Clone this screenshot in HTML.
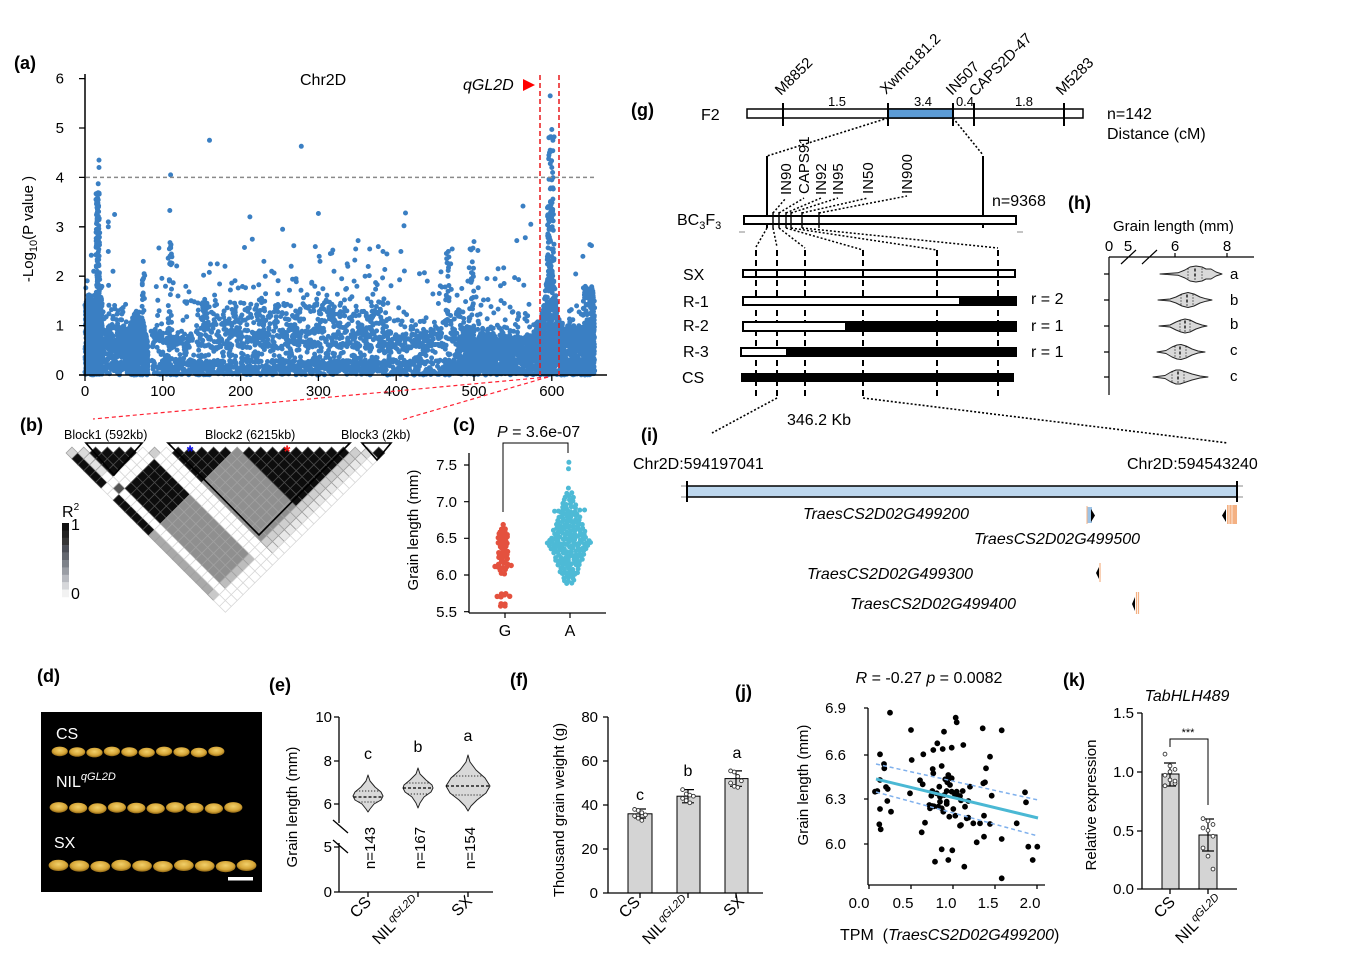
<!DOCTYPE html>
<html><head><meta charset="utf-8"><title>figure</title>
<style>
html,body{margin:0;padding:0;background:#fff;}
svg{display:block}
text{font-family:"Liberation Sans",Arial,sans-serif;fill:#000;}
.b{font-weight:bold;font-size:18px}
.t{font-size:15px}
.m{font-size:16px}
.it{font-style:italic}
</style></head><body>
<svg id="s" xmlns="http://www.w3.org/2000/svg" width="1370" height="974" viewBox="0 0 1370 974">
<defs>
<radialGradient id="gr" cx="50%" cy="40%" r="60%"><stop offset="0" stop-color="#f2d06a"/><stop offset="0.65" stop-color="#d6a638"/><stop offset="1" stop-color="#8f6614"/></radialGradient>
</defs>
<rect width="1370" height="974" fill="#fff"/>

<!-- ===== (a) Manhattan ===== -->
<text class="b" x="14" y="69">(a)</text>
<g id="gA"></g>
<line x1="85" y1="74" x2="85" y2="375" stroke="#000" stroke-width="1.5"/>
<line x1="79" y1="375" x2="607" y2="375" stroke="#000" stroke-width="1.5"/>
<path d="M79 375H85M79 325.6H85M79 276.2H85M79 226.8H85M79 177.4H85M79 128H85M79 78.6H85M85 375V381M162.8 375V381M240.6 375V381M318.4 375V381M396.2 375V381M474 375V381M551.8 375V381" stroke="#000" stroke-width="1.3"/>
<g class="t" text-anchor="end">
<text x="64" y="380">0</text><text x="64" y="330.6">1</text><text x="64" y="281.2">2</text><text x="64" y="231.8">3</text><text x="64" y="182.4">4</text><text x="64" y="133">5</text><text x="64" y="83.6">6</text>
</g>
<g class="t" text-anchor="middle">
<text x="85" y="396">0</text><text x="162.8" y="396">100</text><text x="240.6" y="396">200</text><text x="318.4" y="396">300</text><text x="396.2" y="396">400</text><text x="474" y="396">500</text><text x="551.8" y="396">600</text>
</g>
<text class="t" transform="translate(33,229) rotate(-90)" text-anchor="middle">-Log<tspan font-size="11" dy="4">10</tspan><tspan dy="-4">(P value )</tspan></text>
<text class="m" x="300" y="85">Chr2D</text>
<line x1="86" y1="177.4" x2="596" y2="177.4" stroke="#8a8a8a" stroke-width="1.5" stroke-dasharray="4,3"/>
<line x1="540" y1="75" x2="540" y2="375" stroke="#e8191c" stroke-width="1.5" stroke-dasharray="5,3"/>
<line x1="559" y1="75" x2="559" y2="375" stroke="#e8191c" stroke-width="1.5" stroke-dasharray="5,3"/>
<text class="m it" x="463" y="90">qGL2D</text>
<polygon points="523,79 535,85 523,91" fill="#f00"/>
<line x1="548" y1="377" x2="93" y2="419" stroke="#f23" stroke-width="1.2" stroke-dasharray="4,3"/>
<line x1="548" y1="377" x2="401" y2="420" stroke="#f23" stroke-width="1.2" stroke-dasharray="4,3"/>

<!-- ===== (b) LD ===== -->
<text class="b" x="20" y="431">(b)</text>
<g style="font-size:12.5px">
<text x="64" y="439">Block1 (592kb)</text>
<text x="205" y="439">Block2 (6215kb)</text>
<text x="341" y="439">Block3 (2kb)</text>
</g>
<g id="gB"></g>
<path d="M86 443H142L114 475Z M168 443H350L259 535Z M362 443H391L377 460Z" fill="none" stroke="#000" stroke-width="1.6" stroke-linejoin="miter"/>
<text x="190" y="457" text-anchor="middle" font-size="17" font-weight="bold" style="fill:#1010ee">*</text>
<text x="287" y="457" text-anchor="middle" font-size="17" font-weight="bold" style="fill:#f01010">*</text>
<text class="m" x="62" y="517">R<tspan font-size="10" dy="-7">2</tspan></text>
<g id="gLeg"></g>
<text class="m" x="71" y="530">1</text>
<text class="m" x="71" y="599">0</text>

<!-- ===== (c) ===== -->
<text class="b" x="453" y="431">(c)</text>
<text class="m" x="497" y="437"><tspan class="it">P</tspan> = 3.6e-07</text>
<polyline points="503,512 503,443 568,443 568,453" fill="none" stroke="#000" stroke-width="1"/>
<g id="gC"></g>
<line x1="469" y1="453" x2="469" y2="613" stroke="#000" stroke-width="1.3"/>
<line x1="469" y1="613" x2="606" y2="613" stroke="#000" stroke-width="1.3"/>
<path d="M464 465H469M464 501.7H469M464 538.3H469M464 575H469M464 611.7H469M505 613V618M570 613V618" stroke="#000" stroke-width="1.2"/>
<g class="t" text-anchor="end">
<text x="457" y="470">7.5</text><text x="457" y="507">7.0</text><text x="457" y="543">6.5</text><text x="457" y="580">6.0</text><text x="457" y="617">5.5</text>
</g>
<text class="m" x="505" y="636" text-anchor="middle">G</text>
<text class="m" x="570" y="636" text-anchor="middle">A</text>
<text class="t" transform="translate(418,530) rotate(-90)" text-anchor="middle">Grain length (mm)</text>

<!-- ===== (g) ===== -->
<text class="b" x="631" y="116">(g)</text>
<text class="m" x="701" y="120">F2</text>
<rect x="747" y="109" width="336" height="9" fill="#fff" stroke="#000" stroke-width="1.5"/>
<rect x="888" y="109" width="65" height="9" fill="#5b9bd5" stroke="#000" stroke-width="1.5"/>
<path d="M783 103V126M888 103V126M953 103V126M974 103V126M1064 103V126" stroke="#000" stroke-width="2"/>
<g font-size="13" text-anchor="middle">
<text x="837" y="106">1.5</text><text x="923" y="106">3.4</text><text x="965" y="106">0.4</text><text x="1024" y="106">1.8</text>
</g>
<g class="t">
<text transform="translate(781,96) rotate(-45)">M8852</text>
<text transform="translate(886,95) rotate(-45)">Xwmc181.2</text>
<text transform="translate(952,96) rotate(-45)">IN507</text>
<text transform="translate(975,97) rotate(-45)">CAPS2D-47</text>
<text transform="translate(1062,96) rotate(-45)">M5283</text>
</g>
<text class="m" x="1107" y="119">n=142</text>
<text class="m" x="1107" y="139">Distance (cM)</text>
<path d="M888 118L767 156M953 118L983 155" stroke="#000" stroke-width="1.6" stroke-dasharray="2,2" fill="none"/>
<path d="M767 156V228M983 156V228" stroke="#000" stroke-width="2"/>
<rect x="744" y="216" width="272" height="8" fill="#fff" stroke="#000" stroke-width="2"/>
<path d="M773 212V228M779 212V228M786 212V228M791 212V228M802 212V228M819 212V228" stroke="#000" stroke-width="1.4"/>
<path d="M739 232H745M1017 232H1023" stroke="#888" stroke-width="1"/>
<g class="t">
<text transform="translate(791,195) rotate(-90)">IN90</text>
<text transform="translate(809,194) rotate(-90)">CAPS91</text>
<text transform="translate(826,195) rotate(-90)">IN92</text>
<text transform="translate(843,195) rotate(-90)">IN95</text>
<text transform="translate(873,194) rotate(-90)">IN50</text>
<text transform="translate(912,194) rotate(-90)">IN900</text>
</g>
<path d="M773 213L786 198M779 213L804 198M786 213L821 198M791 213L838 198M802 213L868 198M819 213L907 196" stroke="#000" stroke-width="1.5" stroke-dasharray="2,2" fill="none"/>
<text class="m" x="992" y="206">n=9368</text>
<text class="m" x="677" y="225">BC<tspan font-size="11" dy="4">3</tspan><tspan dy="-4">F</tspan><tspan font-size="11" dy="4">3</tspan></text>
<path d="M767 228L756 247M773 228L777 247M779 228L805 248M786 228L863 250M791 228L937 250M802 228L998 248" stroke="#000" stroke-width="1.5" stroke-dasharray="2,2" fill="none"/>
<path d="M756 250V398M777 250V398M805 250V398M863 250V398M937 250V398M998 250V398" stroke="#000" stroke-width="2" stroke-dasharray="6,4"/>
<g class="m">
<text x="683" y="280">SX</text><text x="683" y="307">R-1</text><text x="683" y="331">R-2</text><text x="683" y="357">R-3</text><text x="682" y="383">CS</text>
<text x="1031" y="304">r = 2</text><text x="1031" y="331">r = 1</text><text x="1031" y="357">r = 1</text>
</g>
<rect x="743" y="270" width="272" height="7" fill="#fff" stroke="#000" stroke-width="2"/>
<rect x="743" y="297" width="273" height="8" fill="#fff" stroke="#000" stroke-width="2"/>
<rect x="959" y="296" width="57" height="10" fill="#000"/>
<rect x="743" y="322" width="273" height="9" fill="#fff" stroke="#000" stroke-width="2"/>
<rect x="845" y="321" width="171" height="11" fill="#000"/>
<rect x="741" y="348" width="275" height="8" fill="#fff" stroke="#000" stroke-width="2"/>
<rect x="786" y="347" width="230" height="10" fill="#000"/>
<rect x="741" y="373" width="273" height="9" fill="#000"/>
<path d="M756 270V277M777 270V277M805 270V277M863 270V277M937 270V277M998 270V277" stroke="#000" stroke-width="2"/>
<path d="M777 398L712 433M863 398L1228 443" stroke="#000" stroke-width="1.6" stroke-dasharray="2,2" fill="none"/>
<text class="m" x="787" y="425">346.2 Kb</text>

<!-- ===== (h) ===== -->
<text class="b" x="1068" y="209">(h)</text>
<text class="t" x="1113" y="231">Grain length (mm)</text>
<g class="t" text-anchor="middle">
<text x="1109" y="251">0</text><text x="1128" y="251">5</text><text x="1175" y="251">6</text><text x="1227" y="251">8</text>
</g>
<path d="M1109 257H1254M1109 257V395M1175 253V257M1227 253V257M1104 274H1109M1104 300H1109M1104 326H1109M1104 352H1109M1104 377H1109M1121 264L1136 250M1142 264L1157 250" stroke="#000" stroke-width="1.2" fill="none"/>
<g id="gH"></g>
<g class="t">
<text x="1230" y="279">a</text><text x="1230" y="305">b</text><text x="1230" y="329">b</text><text x="1230" y="355">c</text><text x="1230" y="381">c</text>
</g>

<!-- ===== (i) ===== -->
<text class="b" x="641" y="441">(i)</text>
<text class="m" x="633" y="469">Chr2D:594197041</text>
<text class="m" x="1127" y="469">Chr2D:594543240</text>
<path d="M681 486H687M681 497H687M1237 486H1243M1237 497H1243" stroke="#888" stroke-width="1"/>
<rect x="687" y="486" width="550" height="11" fill="#bdd7ee" stroke="#000" stroke-width="1.5"/>
<path d="M687 481V502M1237 481V502" stroke="#000" stroke-width="2"/>
<g class="m it">
<text x="803" y="519">TraesCS2D02G499200</text>
<text x="974" y="544">TraesCS2D02G499500</text>
<text x="807" y="579">TraesCS2D02G499300</text>
<text x="850" y="609">TraesCS2D02G499400</text>
</g>
<rect x="1087" y="507" width="5" height="16" fill="#9dc3e6"/>
<line x1="1087" y1="506" x2="1087" y2="524" stroke="#f4b183" stroke-width="1"/>
<polygon points="1091,509 1095,515.5 1091,522" fill="#000"/>
<polygon points="1226,509 1222,515.5 1226,522" fill="#000"/>
<rect x="1227" y="505" width="10" height="19" fill="#f4b183"/>
<path d="M1229 505V524M1232 505V524" stroke="#fff" stroke-width="0.7"/>
<polygon points="1099,567 1096,573 1099,579" fill="#000"/>
<line x1="1100" y1="563" x2="1100" y2="582" stroke="#f4b183" stroke-width="1.2"/>
<polygon points="1135,597 1132,604 1135,611" fill="#000"/>
<path d="M1136.5 592V614M1138.5 592V614" stroke="#f4b183" stroke-width="1.2"/>

<!-- ===== (d) ===== -->
<text class="b" x="37" y="682">(d)</text>
<rect x="41" y="712" width="221" height="180" fill="#000"/>
<g id="gD"></g>
<text class="m" x="56" y="739" style="fill:#fff">CS</text>
<text class="m" x="56" y="787" style="fill:#fff">NIL<tspan font-size="11" dy="-7" font-style="italic" style="fill:#fff">qGL2D</tspan></text>
<text class="m" x="54" y="848" style="fill:#fff">SX</text>
<rect x="228" y="877" width="25" height="3.5" fill="#fff"/>

<!-- ===== (e) ===== -->
<text class="b" x="269" y="691">(e)</text>
<path d="M339 717V823M339 843V892M334 717H339M334 761H339M334 804H339M334 847H339M334 892H339M339 892H493M368 892V897M418 892V897M468 892V897M333 820L348 833M333 840L348 853" stroke="#000" stroke-width="1.3" fill="none"/>
<g class="t" text-anchor="end">
<text x="332" y="722">10</text><text x="332" y="766">8</text><text x="332" y="809">6</text><text x="332" y="852">5</text><text x="332" y="897">0</text>
</g>
<text class="t" transform="translate(297,807) rotate(-90)" text-anchor="middle">Grain length (mm)</text>
<g id="gE"></g>
<g class="m" text-anchor="middle">
<text x="368" y="759">c</text><text x="418" y="752">b</text><text x="468" y="741">a</text>
</g>
<g class="t" text-anchor="middle">
<text transform="translate(375,848) rotate(-90)">n=143</text>
<text transform="translate(425,848) rotate(-90)">n=167</text>
<text transform="translate(475,848) rotate(-90)">n=154</text>
</g>
<g class="m" text-anchor="end">
<text transform="translate(372,903) rotate(-45)">CS</text>
<text transform="translate(421,903) rotate(-45)">NIL<tspan font-size="11" dy="-6" font-style="italic">qGL2D</tspan></text>
<text transform="translate(473,902) rotate(-45)">SX</text>
</g>

<!-- ===== (f) ===== -->
<text class="b" x="510" y="686">(f)</text>
<rect x="628" y="813.8" width="24" height="79.2" fill="#d4d4d4" stroke="#000" stroke-width="1"/>
<rect x="677" y="796.2" width="23" height="96.8" fill="#d4d4d4" stroke="#000" stroke-width="1"/>
<rect x="725" y="778.6" width="23" height="114.4" fill="#d4d4d4" stroke="#000" stroke-width="1"/>
<path d="M608 717V893M603 717H608M603 761H608M603 805H608M603 849H608M603 893H608M604 893H763M640 893V898M688 893V898M736 893V898" stroke="#000" stroke-width="1.3" fill="none"/>
<path d="M640 809V818M634 809H646M634 818H646M688 789.6V802.8M682 789.6H694M682 802.8H694M736 770.9V786.3M730 770.9H742M730 786.3H742" stroke="#000" stroke-width="1.2"/>
<g id="gF"></g>
<g class="t" text-anchor="end">
<text x="598" y="722">80</text><text x="598" y="766">60</text><text x="598" y="810">40</text><text x="598" y="854">20</text><text x="598" y="898">0</text>
</g>
<text class="t" transform="translate(564,810) rotate(-90)" text-anchor="middle">Thousand grain weight (g)</text>
<g class="m" text-anchor="middle">
<text x="640" y="800">c</text><text x="688" y="776">b</text><text x="737" y="758">a</text>
</g>
<g class="m" text-anchor="end">
<text transform="translate(641,903) rotate(-45)">CS</text>
<text transform="translate(691,903) rotate(-45)">NIL<tspan font-size="11" dy="-6" font-style="italic">qGL2D</tspan></text>
<text transform="translate(745,902) rotate(-45)">SX</text>
</g>

<!-- ===== (j) ===== -->
<text class="b" x="735" y="698">(j)</text>
<text class="m" x="929" y="683" text-anchor="middle"><tspan class="it">R</tspan> = -0.27 <tspan class="it">p</tspan> = 0.0082</text>
<g id="gJ"></g>
<line x1="876" y1="764" x2="1038" y2="800" stroke="#7fb0ec" stroke-width="1.5" stroke-dasharray="4,3"/>
<line x1="876" y1="792" x2="1038" y2="836" stroke="#7fb0ec" stroke-width="1.5" stroke-dasharray="4,3"/>
<line x1="876" y1="779" x2="1038" y2="818" stroke="#4ab8d4" stroke-width="3"/>
<path d="M868 708V885M868 885H1045M864 708H868M864 755H868M864 799H868M864 844H868M869 885V889M911 885V889M953 885V889M995 885V889M1037 885V889" stroke="#000" stroke-width="1.3" fill="none"/>
<g class="t" text-anchor="end">
<text x="846" y="713">6.9</text><text x="846" y="760">6.6</text><text x="846" y="804">6.3</text><text x="846" y="849">6.0</text>
</g>
<g class="t" text-anchor="middle">
<text x="859" y="908">0.0</text><text x="903" y="908">0.5</text><text x="946" y="908">1.0</text><text x="988" y="908">1.5</text><text x="1030" y="908">2.0</text>
</g>
<text class="t" transform="translate(808,785) rotate(-90)" text-anchor="middle">Grain length (mm)</text>
<text class="m" x="840" y="940" xml:space="preserve">TPM  (<tspan class="it">TraesCS2D02G499200</tspan>)</text>

<!-- ===== (k) ===== -->
<text class="b" x="1063" y="686">(k)</text>
<text class="m it" x="1187" y="701" text-anchor="middle">TabHLH489</text>
<rect x="1162" y="774" width="17" height="115" fill="#d4d4d4" stroke="#000" stroke-width="1"/>
<rect x="1199" y="835" width="18" height="54" fill="#d4d4d4" stroke="#000" stroke-width="1"/>
<path d="M1142 713V889M1137 713H1142M1137 772H1142M1137 831H1142M1137 889H1142M1142 889H1237M1170 889V894M1208 889V894" stroke="#000" stroke-width="1.3" fill="none"/>
<path d="M1170 763V786M1164 763H1176M1164 786H1176M1208 819V851M1202 819H1214M1202 851H1214" stroke="#000" stroke-width="1.2"/>
<polyline points="1170,747 1170,739 1208,739 1208,805" fill="none" stroke="#000" stroke-width="1"/>
<text x="1188" y="736" text-anchor="middle" font-size="11">***</text>
<g id="gK"></g>
<g class="t" text-anchor="end">
<text x="1134" y="718">1.5</text><text x="1134" y="777">1.0</text><text x="1134" y="836">0.5</text><text x="1134" y="894">0.0</text>
</g>
<text class="t" transform="translate(1096,805) rotate(-90)" text-anchor="middle">Relative expression</text>
<g class="m" text-anchor="end">
<text transform="translate(1176,903) rotate(-45)">CS</text>
<text transform="translate(1224,902) rotate(-45)">NIL<tspan font-size="11" dy="-6" font-style="italic">qGL2D</tspan></text>
</g>
</svg>

<script>
(function(){
var NS='http://www.w3.org/2000/svg';
function G(id){return document.getElementById(id);}
function add(par,tag,a){var e=document.createElementNS(NS,tag);for(var k in a)e.setAttribute(k,a[k]);par.appendChild(e);return e;}
var seed=12345;function rnd(){seed=(seed*16807)%2147483647;return (seed-1)/2147483646;}
function circ(x,y,r){return 'M'+(x-r).toFixed(1)+' '+y.toFixed(1)+'a'+r+' '+r+' 0 1 0 '+(2*r)+' 0a'+r+' '+r+' 0 1 0 '+(-2*r)+' 0';}

/* ---- (a) Manhattan ---- */
var d=[];
function X(m){return 85+m*0.778;}
function Y(v){return 375-v*49.4;}
function P(m,v){if(v<0)v=0;if(v>5.7)v=5.7;if(m<0)m=0;if(m>656)m=656;d.push(circ(X(m),Y(v),2.5));}
function nl(f){return -Math.log(rnd()*0.9999+0.0001)/Math.LN10*f;}
var i,m,v;
/* middle cloud */
for(i=0;i<1250;i++){m=85+rnd()*440;if(rnd()<0.6){v=rnd()*0.9;}else{v=0.55+nl(0.8);if(v>2.7)v=1+rnd()*1.2;}P(m,v);}
for(i=0;i<750;i++){m=85+rnd()*490;v=rnd()*0.3;P(m,v);}
for(i=0;i<300;i++){m=150+rnd()*240;v=0.7+rnd()*0.6+nl(0.45);if(v>2.6)v=1+rnd();P(m,v);}
for(i=0;i<40;i++){m=85+rnd()*480;v=1.7+rnd()*rnd()*1.0;P(m,v);}
/* left */
for(i=0;i<750;i++){m=rnd()*22;v=rnd()*1.5+(rnd()<0.2?nl(0.5):0);P(m,v);}
for(i=0;i<170;i++){m=14+rnd()*5;v=rnd()*3.7;P(m,v);}
for(i=0;i<260;i++){m=20+rnd()*35;v=rnd()*1.0+(rnd()<0.3?nl(0.6):0);P(m,v);}
for(i=0;i<650;i++){m=54+rnd()*27;var w=1-Math.pow((m-67)/13.5,2)*0.5;v=rnd()*1.3*w;P(m,v);}
for(i=0;i<40;i++){m=107+rnd()*5;v=rnd()*2.7;P(m,v);}
for(i=0;i<30;i++){m=73+rnd()*4;v=rnd()*2.1;P(m,v);}
/* streaks */
for(i=0;i<25;i++){m=464+rnd()*4;v=rnd()*2.5;P(m,v);}
for(i=0;i<25;i++){m=496+rnd()*4;v=rnd()*2.6;P(m,v);}
/* right side */
for(i=0;i<800;i++){m=480+rnd()*100;v=rnd()<0.7?rnd()*0.8:0.4+nl(0.7);if(v>2.6)v=rnd()*1.5;P(m,v);}
for(i=0;i<650;i++){m=580+rnd()*34;var w2=1-Math.abs(m-598)/22;v=rnd()*2.4*Math.max(w2,0.45);P(m,v);}
for(i=0;i<70;i++){m=594+rnd()*9;v=2.0+rnd()*1.6;P(m,v);}
for(i=0;i<14;i++){m=596+rnd()*6;v=3.6+rnd()*1.4;P(m,v);}
for(i=0;i<550;i++){m=612+rnd()*43;v=rnd()<0.75?rnd()*1.0:0.5+nl(0.6);if(v>2.2)v=rnd()*1.6;P(m,v);}
for(i=0;i<180;i++){m=640+rnd()*15;v=rnd()*1.8;P(m,v);}
var out=[[160,4.75],[278,4.63],[110,4.05],[109,3.33],[18,4.35],[18,4.2],[17,3.87],[598,5.65],[600,4.97],[598,4.82],[603,4.82],[598,4.55],[597,4.5],[600,4.2],[601,4.1],[600,3.95],[563,3.42],[573,3.05],[555,2.72],[566,2.78],[38,3.25],[30,3.1],[30,3.0],[212,3.2],[254,2.95],[300,3.27],[412,3.28],[410,3.02],[500,2.7],[505,2.52],[651,2.62],[649,2.64],[640,2.4],[30,2.5],[36,2.1],[296,2.6],[351,2.72],[377,2.6],[215,2.75],[205,2.58],[95,2.57],[406,2.5],[472,2.55],[495,2.55],[230,2.3],[348,2.55],[366,2.55],[383,2.5],[388,2.45],[110,2.6],[111,2.45],[301,2.4],[302,2.3],[337,2.25],[470,2.25],[531,2.15],[75,2.3],[76,2.05],[467,2.5],[170,2.25],[180,2.2],[240,2.1],[265,2.2],[320,2.1],[330,1.95],[430,2.05],[440,1.9],[360,2.0]];
for(i=0;i<out.length;i++)P(out[i][0],out[i][1]);
add(G('gA'),'path',{d:d.join(''),fill:'#3a7fc3'});

/* ---- (b) LD ---- */
var L=G('gB'),h=5.9;
var BK='#0d0d0d',GR='#8f8f8f',WH='#ffffff';
function col(i,j){
 if(i===0){ if(j===1)return '#d6d6d6'; if(j<=6)return BK; if(j<=8)return WH; if(j<=14)return BK; if(j<=24)return '#a9a9a9'; if(j===25)return '#c9c9c9'; return WH;}
 if(i===1){ if(j===8)return '#555555'; if(j===2)return '#dadada'; if(j>=3&&j<=5)return '#e2e2e2'; return WH;}
 if(i<=6){ if(j<=6)return BK; if(j<=8)return WH; if(j<=14)return BK; if(j<=24)return GR; if(j===25)return '#bdbdbd'; return WH;}
 if(i<=8){ if(i===7&&j===8)return '#cfcfcf'; return WH;}
 if(i<=14){ if(j<=14)return BK; if(j<=24)return GR; if(j===25)return '#cfcfcf'; if(j===26)return '#e8e8e8'; return WH;}
 if(i<=24){ if(j<=24)return BK; if(j===25)return '#cfcfcf'; if(j===26)return '#e8e8e8'; return WH;}
 if(i===25){ if(j===26)return '#dcdcdc'; return WH;}
 if(i===26)return BK;
 return WH;
}
var N=28;
for(i=0;i<N-1;i++){for(var j=i+1;j<N;j++){
 var cx=72+(i+j-1)*h,cy=453+(j-i-1)*h,c=col(i,j);
 var st=(c===BK)?'#4a4a4a':(c===WH?'#d8d8d8':'#a0a0a0');
 add(L,'polygon',{points:cx+','+(cy-h)+' '+(cx+h)+','+cy+' '+cx+','+(cy+h)+' '+(cx-h)+','+cy,fill:c,stroke:st,'stroke-width':0.8});
}}
var lg=G('gLeg'),cols=['#111','#222','#353535','#4b4e56','#63676f','#7e828a','#9a9da4','#b8bac0','#d6d7da','#f2f2f2'];
for(i=0;i<10;i++)add(lg,'rect',{x:62,y:523+i*7.4,width:7,height:7.6,fill:cols[i]});

/* ---- (c) beeswarm ---- */
function yC(v){return 612-(v-5.5)*73.4;}
function swarm(cx,rows,color,r){var s=[];rows.forEach(function(q){for(var k=0;k<q[1];k++){s.push(circ(cx+(k-(q[1]-1)/2)*4.3+(rnd()-0.5)*1.6,yC(q[0])+(rnd()-0.5)*2.2,r));}});add(G('gC'),'path',{d:s.join(''),fill:color});}
swarm(503,[[6.68,1],[6.64,2],[6.6,2],[6.56,3],[6.52,3],[6.48,2],[6.44,3],[6.4,2],[6.36,2],[6.32,3],[6.28,3],[6.24,3],[6.2,2],[6.16,3],[6.12,5],[6.08,2],[6.03,2],[5.76,2],[5.72,4],[5.62,2],[5.58,2]],'#e4513e',2.7);
swarm(569,[[7.55,1],[7.45,1],[7.2,1],[7.12,2],[7.07,3],[7.02,3],[6.97,4],[6.92,4],[6.88,8],[6.84,5],[6.8,6],[6.76,6],[6.72,6],[6.68,7],[6.64,7],[6.6,8],[6.56,8],[6.52,9],[6.48,10],[6.44,11],[6.41,10],[6.37,9],[6.33,8],[6.29,8],[6.25,7],[6.21,7],[6.17,6],[6.13,6],[6.09,5],[6.05,5],[6.01,4],[5.97,3],[5.93,3],[5.89,2]],'#4dbad6',2.5);

/* ---- (d) grains ---- */
var gd=G('gD');
[[752,51,225,10,4.8],[808,49,243,10,5.3],[866,48,257,10,5.6]].forEach(function(r){
 var w=(r[2]-r[1])/r[3];
 for(var k=0;k<r[3];k++){add(gd,'ellipse',{cx:r[1]+w*(k+0.5),cy:r[0]+(k%3-1)*0.6,rx:w/2-0.6,ry:r[4],fill:'url(#gr)'});}
});

/* ---- violins ---- */
function vviol(par,cx,prof,med,q1,q2){
 var top=[],bot=[];prof.forEach(function(p){top.push((cx+p[1])+','+p[0]);bot.unshift((cx-p[1])+','+p[0]);});
 add(par,'polygon',{points:top.concat(bot).join(' '),fill:'#d9d9d9',stroke:'#222','stroke-width':1,'stroke-linejoin':'round'});
 function wAt(y){for(var k=1;k<prof.length;k++){if(prof[k][0]>=y){var a=prof[k-1],b=prof[k];return a[1]+(b[1]-a[1])*(y-a[0])/(b[0]-a[0]);}}return 0;}
 var wm=wAt(med);add(par,'line',{x1:cx-wm,x2:cx+wm,y1:med,y2:med,stroke:'#000','stroke-width':1.3,'stroke-dasharray':'3,2'});
 [q1,q2].forEach(function(q){var wq=wAt(q);add(par,'line',{x1:cx-wq,x2:cx+wq,y1:q,y2:q,stroke:'#000','stroke-width':1,'stroke-dasharray':'1,2'});});
}
var ge=G('gE');
vviol(ge,368,[[775,0],[781,2],[787,7],[792,13],[796,15],[800,13],[804,6],[809,2],[812,0]],797,791,802);
vviol(ge,418,[[768,0],[774,2],[780,8],[785,14],[788,15],[792,13],[797,6],[803,2],[808,0]],788,783,794);
vviol(ge,468,[[755,0],[762,2],[770,8],[778,17],[786,22],[793,18],[800,9],[806,3],[811,0]],786,776,795);

function hviol(par,cy,prof,med,q1,q2){
 var top=[],bot=[];prof.forEach(function(p){top.push(p[0]+','+(cy-p[1]));bot.unshift(p[0]+','+(cy+p[1]));});
 add(par,'polygon',{points:top.concat(bot).join(' '),fill:'#d9d9d9',stroke:'#222','stroke-width':1,'stroke-linejoin':'round'});
 [[med,'3,2',1.3],[q1,'1,2',1],[q2,'1,2',1]].forEach(function(q){add(par,'line',{x1:q[0],x2:q[0],y1:cy-5.5,y2:cy+5.5,stroke:'#000','stroke-width':q[2],'stroke-dasharray':q[1]});});
}
var gh=G('gH');
hviol(gh,274,[[1160,0],[1178,1.2],[1185,4],[1190,7],[1196,8],[1202,7],[1206,5],[1211,5],[1216,2],[1222,0]],1195,1188,1202);
hviol(gh,300,[[1158,0],[1170,1],[1176,3],[1182,6],[1188,7.5],[1194,6],[1200,3],[1206,1.2],[1212,0]],1187,1181,1193);
hviol(gh,326,[[1159,0],[1170,1],[1176,4],[1181,6],[1185,7],[1190,6],[1196,3],[1202,1],[1207,0]],1185,1180,1190);
hviol(gh,352,[[1157,0],[1166,1.5],[1172,5],[1177,7],[1181,7.5],[1186,6],[1192,3],[1198,1],[1205,0]],1180,1175,1186);
hviol(gh,377,[[1153,0],[1165,1.5],[1171,5],[1176,7],[1180,7],[1186,5],[1192,3],[1200,1],[1208,0]],1178,1172,1184);

/* ---- (f) dots ---- */
var gf=G('gF');
function yF(v){return 893-v*2.2;}
[[640,[38,37.5,36.5,35.5,35,34,33]],[688,[47,45,44.5,44,43,42,41]],[736,[55.5,55,53,51,50,48.5,48]]].forEach(function(b){
 b[1].forEach(function(v,k){add(gf,'circle',{cx:b[0]+((k%4)-1.5)*3.6,cy:yF(v),r:1.9,fill:'#fff',stroke:'#333','stroke-width':0.9});});
});

/* ---- (k) dots ---- */
var gk=G('gK');
function yK(v){return 889-v*117.3;}
[[1170,[1.15,1.05,1.02,0.97,0.93,0.9,0.88,1.0,0.92]],[1208,[0.6,0.58,0.55,0.52,0.5,0.45,0.35,0.28,0.17]]].forEach(function(b){
 b[1].forEach(function(v,k){add(gk,'circle',{cx:b[0]+((k%3)-1)*5,cy:yK(v),r:1.9,fill:'#fff',stroke:'#333','stroke-width':0.9});});
});

/* ---- (j) scatter ---- */
var zj=[[300,143],[363,195],[497,158],[500,172],[462,200],[578,190],[635,196],[442,235],[400,268],[430,255],[458,252],[485,248],[520,240],[600,275],[365,285],[270,268],[282,297],[283,310],[588,310],[585,352],[255,380],[270,345],[262,378],[270,432],[268,478],[272,493],[288,366],[293,372],[292,408],[303,440],[360,385],[390,346],[398,358],[428,312],[430,325],[455,303],[475,330],[478,337],[472,352],[480,360],[448,365],[427,378],[440,385],[470,378],[485,380],[463,390],[424,392],[432,424],[445,425],[455,430],[460,440],[470,410],[478,455],[490,432],[496,452],[513,406],[518,378],[535,408],[540,365],[510,482],[513,480],[530,460],[535,458],[550,475],[570,475],[582,452],[600,477],[605,392],[580,355],[635,522],[560,532],[582,515],[680,475],[705,382],[708,412],[715,545],[742,545],[728,585],[635,640],[523,605],[475,585],[435,590],[455,553],[487,556],[395,502],[405,473],[427,423],[485,340],[510,393],[495,390],[450,410],[466,343],[420,430],[525,425],[470,417],[450,395],[418,420],[500,380]];
var sj=[];zj.forEach(function(p){sj.push(circ(790+p[0]/3,665+p[1]/3,2.9));});
add(G('gJ'),'path',{d:sj.join(''),fill:'#000'});
})();
</script>
</body></html>
